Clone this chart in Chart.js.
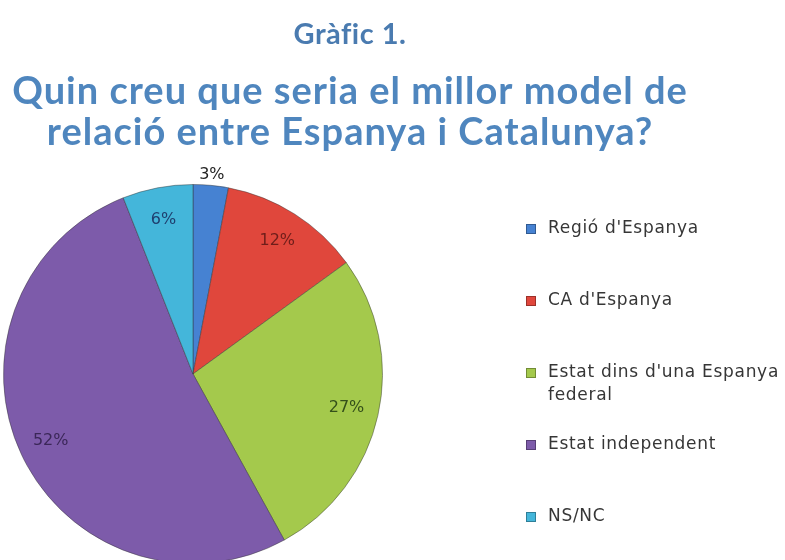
<!DOCTYPE html>
<html>
<head>
<meta charset="utf-8">
<script src="https://cdn.jsdelivr.net/npm/chart.js@4.4.1/dist/chart.umd.min.js"></script>
<style>
  html, body { margin: 0; padding: 0; background: #fff; overflow: hidden; }
  #wrap { width: 785px; height: 570px; }
</style>
</head>
<body>
<div id="wrap"><canvas id="chart" width="785" height="570"></canvas></div>
<script>
// Chart text and values.
const titleLines = ['Gràfic 1.'];
const subtitleLines = ['Quin creu que seria el millor model de', 'relació entre Espanya i Catalunya?'];
const categories = ["Regió d'Espanya", "CA d'Espanya", "Estat dins d'una Espanya federal", "Estat independent", "NS/NC"];
const percentages = [3, 12, 27, 52, 6];

const sliceColors = ['#4682D2', '#E0473C', '#A4C94C', '#7D5BAA', '#44B6DA'];
const labelColors = ['#222222', '#6E1E1A', '#34501A', '#3B2758', '#1F3F6E'];

function wrapText(ctx, text, maxWidth) {
    const words = text.split(' ');
    const lines = [];
    let line = '';
    words.forEach(w => {
        const test = line ? line + ' ' + w : w;
        if (line && ctx.measureText(test).width > maxWidth) {
            lines.push(line);
            line = w;
        } else {
            line = test;
        }
    });
    lines.push(line);
    return lines;
}

// Title block, centred over the whole figure rather than the pie.
const headerPlugin = {
    id: 'header',
    afterDraw(chart) {
        const ctx = chart.ctx;
        ctx.save();
        ctx.textAlign = 'center';
        ctx.textBaseline = 'middle';
        ctx.fillStyle = '#4A7BB0';
        ctx.font = 'bold 29px Lato';
        ctx.letterSpacing = '0.5px';
        titleLines.forEach((line, i) => ctx.fillText(line, 350, 35 + i * 32));
        ctx.fillStyle = '#4F86BE';
        ctx.font = 'bold 38px Lato';
        ctx.letterSpacing = '1px';
        subtitleLines.forEach((line, i) => ctx.fillText(line, 350, 92 + i * 41));
        ctx.restore();
    }
};

// Legend on the right, items spread evenly around the pie's centre line.
const sideLegend = {
    id: 'sideLegend',
    afterDraw(chart) {
        const ctx = chart.ctx;
        const area = chart.chartArea;
        const x = area.right + 143;
        const step = 72;
        const midY = (area.top + area.bottom) / 2 - 1;
        const firstY = midY - step * (categories.length - 1) / 2;
        ctx.save();
        ctx.font = '17px "DejaVu Sans"';
        ctx.letterSpacing = '0.7px';
        ctx.textBaseline = 'middle';
        ctx.textAlign = 'left';
        categories.forEach((label, i) => {
            const y = firstY + i * step;
            ctx.fillStyle = sliceColors[i];
            ctx.fillRect(x, y - 5, 10, 10);
            ctx.strokeStyle = 'rgba(0,0,0,0.3)';
            ctx.lineWidth = 1;
            ctx.strokeRect(x + 0.5, y - 4.5, 9, 9);
            ctx.fillStyle = '#363636';
            wrapText(ctx, label, 238).forEach((line, j) => ctx.fillText(line, x + 22, y + j * 23));
        });
        ctx.restore();
    }
};

// Percent labels: inside each slice, small slices outside the rim.
const sliceLabels = {
    id: 'sliceLabels',
    afterDatasetsDraw(chart) {
        const meta = chart.getDatasetMeta(0);
        const ctx = chart.ctx;
        ctx.save();
        ctx.font = '16px "DejaVu Sans"';
        ctx.textAlign = 'center';
        ctx.textBaseline = 'middle';
        meta.data.forEach((arc, i) => {
            const p = arc.getProps(['x', 'y', 'startAngle', 'endAngle', 'outerRadius'], true);
            const mid = (p.startAngle + p.endAngle) / 2;
            const r = percentages[i] < 5 ? p.outerRadius + 11 : p.outerRadius * 0.83;
            ctx.fillStyle = labelColors[i];
            ctx.fillText(percentages[i] + '%', p.x + Math.cos(mid) * r, p.y + Math.sin(mid) * r);
        });
        ctx.restore();
    }
};

new Chart(document.getElementById('chart'), {
    type: 'pie',
    data: {
        labels: categories,
        datasets: [{
            data: percentages,
            backgroundColor: sliceColors,
            borderColor: 'rgba(50,50,50,0.45)',
            borderWidth: 1
        }]
    },
    options: {
        responsive: false,
        animation: false,
        layout: { padding: { top: 184, left: 3, right: 402, bottom: 6 } },
        plugins: {
            legend: { display: false },
            tooltip: { enabled: false }
        }
    },
    plugins: [headerPlugin, sideLegend, sliceLabels]
});
</script>
</body>
</html>
